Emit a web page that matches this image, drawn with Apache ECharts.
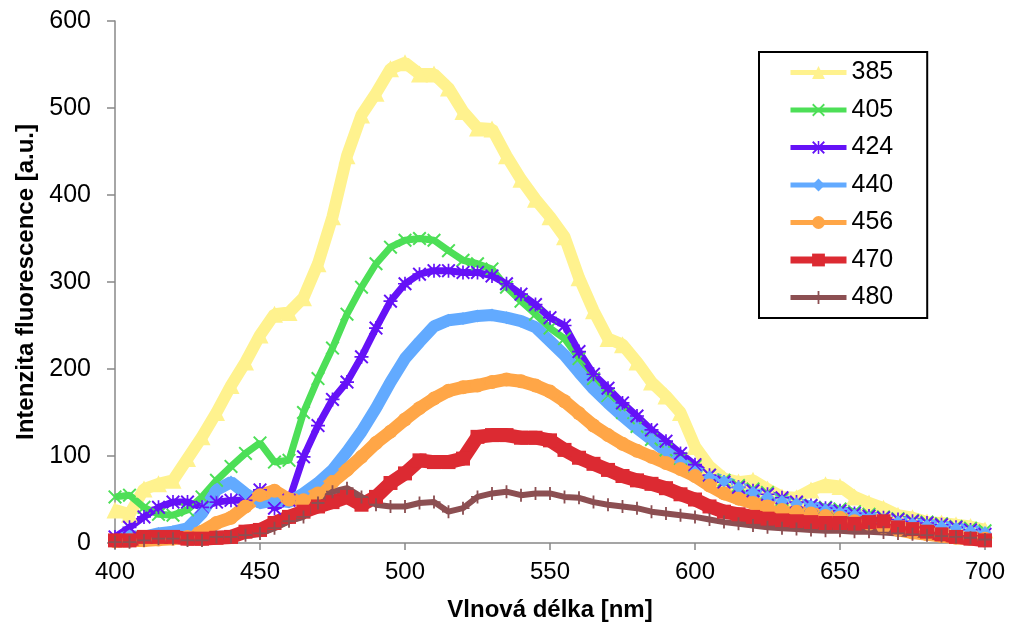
<!DOCTYPE html>
<html>
<head>
<meta charset="utf-8">
<script src="https://cdn.jsdelivr.net/npm/echarts@6/dist/echarts.min.js"></script>
<style>
  html, body { margin: 0; padding: 0; background: #fff; }
  #chart { width: 1009px; height: 632px; }
</style>
</head>
<body>
<div id="chart"></div>
<script>
// wavelength [nm], one point every 5 nm
const wavelengths = [
  400, 405, 410, 415, 420, 425, 430, 435, 440, 445,
  450, 455, 460, 465, 470, 475, 480, 485, 490, 495,
  500, 505, 510, 515, 520, 525, 530, 535, 540, 545,
  550, 555, 560, 565, 570, 575, 580, 585, 590, 595,
  600, 605, 610, 615, 620, 625, 630, 635, 640, 645,
  650, 655, 660, 665, 670, 675, 680, 685, 690, 695,
  700
]

const s385 = [
  38, 33, 62, 68, 72, 97, 122, 150, 181, 208,
  239, 263, 265, 282, 321, 375, 445, 492, 517, 545,
  552, 539, 539, 523, 496, 477, 476, 445, 418, 395,
  375, 352, 305, 267, 235, 228, 208, 185, 169, 150,
  111, 88, 74, 70, 72, 62, 53, 52, 61, 67,
  65, 53, 46, 40, 32, 29, 24, 23, 21, 19,
  15
]
const s405 = [
  53, 55, 41, 33, 32, 38, 53, 72, 88, 103,
  115, 93, 95, 150, 189, 224, 263, 294, 321, 340,
  348, 350, 348, 336, 325, 321, 315, 294, 278, 263,
  247, 235, 212, 189, 169, 150, 134, 119, 107, 97,
  88, 78, 72, 66, 62, 58, 50, 46, 43, 41,
  39, 36, 33, 30, 28, 26, 24, 22, 19, 17,
  14
]
const s424 = [
  7, 18, 30, 41, 47, 47, 41, 47, 49, 49,
  61, 40, 49, 99, 135, 165, 185, 214, 247, 278,
  298, 309, 313, 313, 311, 311, 307, 298, 286, 274,
  259, 250, 220, 194, 178, 161, 146, 130, 117, 103,
  90, 78, 70, 64, 60, 56, 52, 47, 43, 40,
  37, 34, 31, 29, 27, 25, 23, 21, 18, 15,
  10
]
const s440 = [
  3, 8, 7, 11, 13, 17, 34, 61, 70, 57,
  46, 49, 47, 57, 69, 84, 105, 128, 155, 185,
  212, 231, 249, 256, 258, 261, 262, 259, 255, 248,
  232, 216, 196, 177, 161, 146, 132, 119, 105, 93,
  82, 76, 71, 64, 58, 53, 48, 45, 42, 38,
  35, 32, 29, 27, 24, 22, 20, 19, 17, 14,
  12
]
const s456 = [
  2, 3, 3, 4, 5, 7, 13, 23, 29, 42,
  55, 60, 50, 49, 57, 70, 84, 99, 115, 128,
  142, 155, 166, 175, 179, 181, 185, 188, 186, 181,
  174, 163, 149, 135, 124, 114, 106, 99, 92, 85,
  77, 66, 57, 51, 46, 42, 38, 36, 34, 31,
  29, 25, 22, 18, 15, 12, 10, 8, 6, 5,
  5
]
const s470 = [
  3, 3, 7, 7, 7, 5, 5, 6, 7, 13,
  15, 23, 30, 36, 42, 47, 53, 44, 53, 69,
  80, 95, 93, 93, 97, 122, 124, 124, 121, 121,
  118, 107, 98, 91, 84, 77, 72, 68, 63, 56,
  50, 42, 36, 33, 30, 28, 26, 25, 24, 23,
  23, 22, 24, 25, 18, 16, 13, 10, 7, 5,
  3
]
const s480 = [
  1, 1, 3, 5, 5, 3, 3, 7, 7, 9,
  11, 17, 25, 30, 46, 59, 63, 53, 44, 42,
  42, 46, 47, 36, 40, 53, 57, 59, 55, 57,
  57, 53, 52, 47, 44, 42, 40, 36, 34, 32,
  30, 27, 24, 22, 20, 18, 17, 16, 15, 14,
  14, 13, 13, 12, 11, 10, 9, 8, 7, 6,
  4
]

const crossX = 'path://M1,0L5,4L9,0L10,1L6,5L10,9L9,10L5,6L1,10L0,9L4,5L0,1Z'
const plus = 'path://M4.3,0H5.7V4.3H10V5.7H5.7V10H4.3V5.7H0V4.3H4.3Z'
const star = 'path://M4.4,0H5.6V4.4H10V5.6H5.6V10H4.4V5.6H0V4.4H4.4Z M1,0L5,4L9,0L10,1L6,5L10,9L9,10L5,6L1,10L0,9L4,5L0,1Z'

const seriesDefs = [
  { name: '385', values: s385, color: '#fff28e', symbol: 'triangle', size: 17, width: 12 },
  { name: '405', values: s405, color: '#4ddf57', symbol: crossX, size: 14, width: 7 },
  { name: '424', values: s424, color: '#6512f7', symbol: star, size: 14, width: 7 },
  { name: '440', values: s440, color: '#62aaff', symbol: 'diamond', size: 13, width: 12 },
  { name: '456', values: s456, color: '#ffa647', symbol: 'circle', size: 14, width: 13 },
  { name: '470', values: s470, color: '#dc2a32', symbol: 'rect', size: 14, width: 14 },
  { name: '480', values: s480, color: '#8c4f52', symbol: plus, size: 13, width: 6 },
]

const chart = echarts.init(document.getElementById('chart'))

chart.setOption({
  animation: false,
  textStyle: { fontFamily: 'Liberation Sans, Arial, sans-serif' },
  grid: { left: 115, right: 24, top: 21, bottom: 89 },
  legend: {
    orient: 'vertical',
    left: 759,
    top: 52,
    padding: [8, 34, 8, 28],
    itemWidth: 56,
    itemHeight: 16,
    itemGap: 12.5,
    borderColor: '#000',
    borderWidth: 2,
    textStyle: { fontSize: 25, color: '#000' },
    data: seriesDefs.map((s) => ({
      name: s.name,
      lineStyle: { width: s.name === '470' ? 7 : 5 },
    })),
  },
  xAxis: {
    type: 'value',
    min: 400,
    max: 700,
    interval: 50,
    name: 'Vlnová délka [nm]',
    nameLocation: 'middle',
    nameGap: 55,
    nameTextStyle: { fontSize: 24, fontWeight: 'bold', color: '#000' },
    axisLine: { lineStyle: { color: '#888', width: 1.5 } },
    axisTick: { length: 7, lineStyle: { color: '#888', width: 1.5 } },
    axisLabel: { fontSize: 24, color: '#000', margin: 17 },
    splitLine: { show: false },
  },
  yAxis: {
    type: 'value',
    min: 0,
    max: 600,
    interval: 100,
    name: 'Intenzita fluorescence [a.u.]',
    nameLocation: 'middle',
    nameGap: 76,
    nameTextStyle: { fontSize: 24, fontWeight: 'bold', color: '#000' },
    axisLine: { show: true, lineStyle: { color: '#888', width: 1.5 } },
    axisTick: { show: true, length: 8, lineStyle: { color: '#888', width: 1.5 } },
    axisLabel: { fontSize: 25, color: '#000', margin: 24 },
    splitLine: { show: false },
  },
  series: seriesDefs.map((s) => ({
    name: s.name,
    type: 'line',
    data: wavelengths.map((w, i) => [w, s.values[i]]),
    symbol: s.symbol,
    symbolSize: s.size,
    showAllSymbol: true,
    color: s.color,
    lineStyle: { color: s.color, width: s.width },
    itemStyle: { color: s.color },
  })),
})
</script>
</body>
</html>
